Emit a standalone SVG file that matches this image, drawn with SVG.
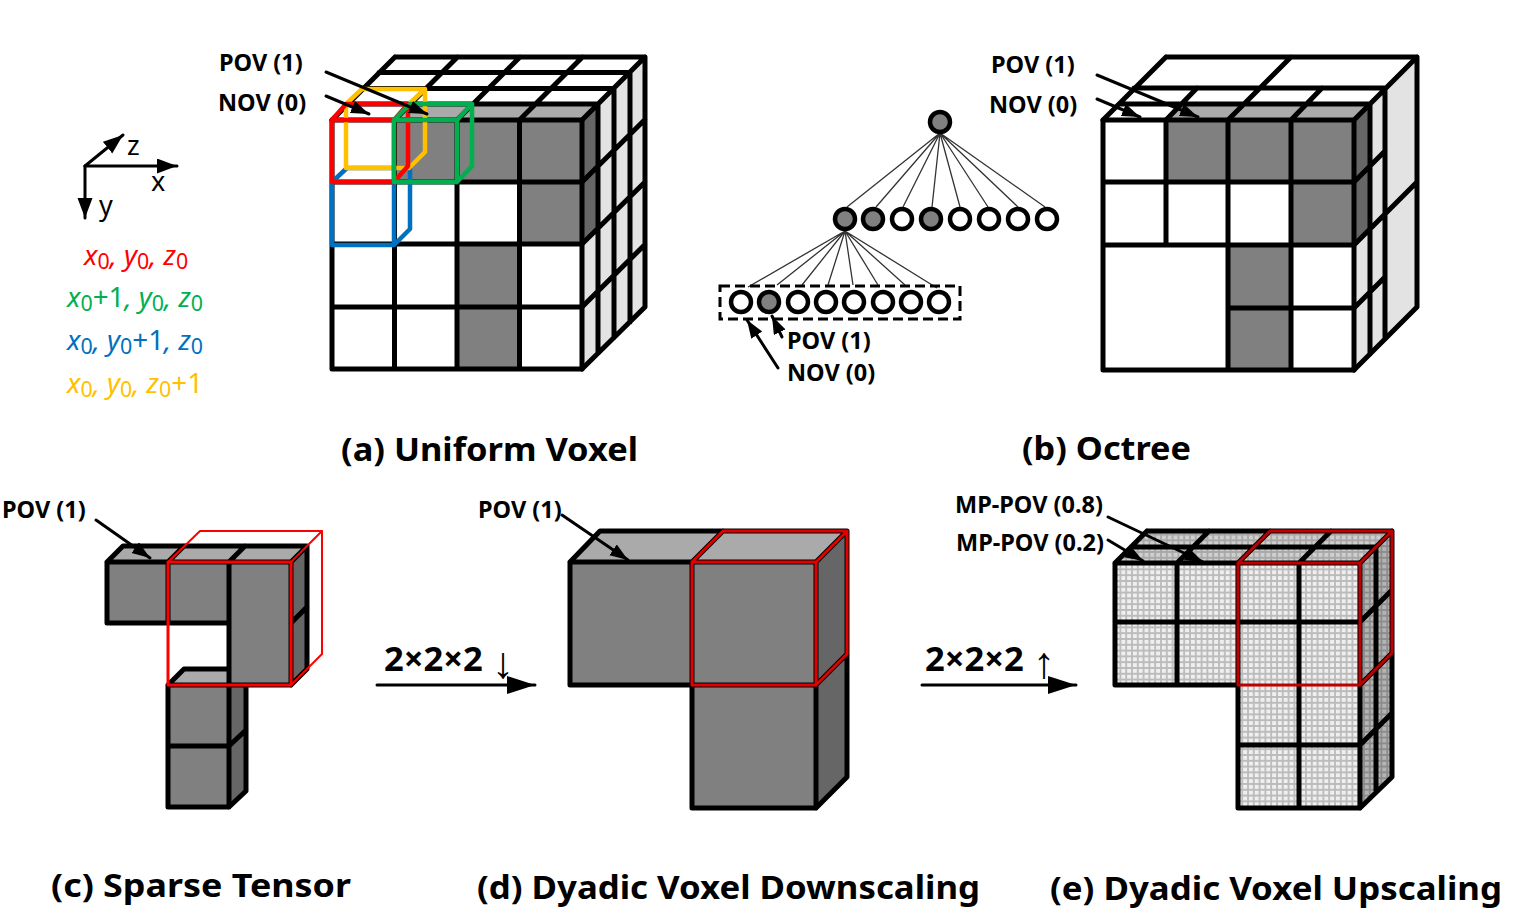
<svg xmlns="http://www.w3.org/2000/svg" width="1514" height="924" viewBox="0 0 1514 924">
<style>
text{font-family:"Noto Sans","Open Sans",sans-serif;fill:#000}
.l{font-size:23.5px;font-weight:700}
.c{font-size:33px;font-weight:700}
.m{font-size:34.5px;font-weight:700}
.ar{font-family:"Liberation Sans",sans-serif;font-weight:400;font-size:44px}
.ax{font-size:27px}
.co{font-size:27.800px;font-style:italic}
.co tspan.s{font-size:21.400px;font-style:normal}
.k{fill:none;stroke:#000;stroke-width:5;stroke-linecap:round;stroke-linejoin:round}
.w{fill:#fff}.g{fill:#808080}.t{fill:#aaa}.r{fill:#666}.p{fill:#e3e3e3}
.a{fill:none;stroke:#000;stroke-width:3;stroke-linecap:round;marker-end:url(#h)}
.ab{fill:none;stroke:#000;stroke-width:3;stroke-linecap:round;marker-end:url(#x)}
.big{fill:none;stroke:#000;stroke-width:3;stroke-linecap:round;marker-end:url(#H)}
.tree{stroke:#333;stroke-width:1.3;fill:none}
.n{stroke:#000;stroke-width:4.5}
.cube{fill:none;stroke-width:4.5;stroke-linejoin:round;stroke-linecap:round}
.rd{fill:none;stroke:#f00;stroke-width:3;stroke-linejoin:round;stroke-linecap:round}
.dk{fill:none;stroke:#c00000;stroke-width:3;stroke-linejoin:round;stroke-linecap:round}
</style>
<defs>
<marker id="h" markerUnits="userSpaceOnUse" markerWidth="20" markerHeight="14" refX="18" refY="6.500" orient="auto"><path d="M0 0L18 6.500L0 13Z"/></marker>
<marker id="x" markerUnits="userSpaceOnUse" markerWidth="22" markerHeight="16" refX="20" refY="7.500" orient="auto"><path d="M0 0L20 7.500L0 15Z"/></marker>
<marker id="H" markerUnits="userSpaceOnUse" markerWidth="30" markerHeight="20" refX="28" refY="9" orient="auto"><path d="M0 0L28 9L0 18Z"/></marker>
<pattern id="lf" patternUnits="userSpaceOnUse" width="5.8" height="5.8"><rect width="5.8" height="5.8" fill="#efefef"/><path d="M0 1H5.800M1 0V5.800" stroke="#bbb" stroke-width="1.800"/></pattern>
<pattern id="lt" patternUnits="userSpaceOnUse" width="5.8" height="5.8"><rect width="5.8" height="5.8" fill="#cfcfcf"/><path d="M0 1H5.800M1 0V5.800" stroke="#a8a8a8" stroke-width="1.800"/></pattern>
<pattern id="lr" patternUnits="userSpaceOnUse" width="5.8" height="5.8"><rect width="5.8" height="5.8" fill="#b4b4b4"/><path d="M0 1H5.800M1 0V5.800" stroke="#8c8c8c" stroke-width="1.800"/></pattern>
</defs>
<rect width="1514" height="924" fill="#fff"/>

<g id="axes">
<path class="ab" d="M85 166L177 166"/>
<path class="ab" d="M85 166L123 135"/>
<path class="ab" d="M85 166L85 218"/>
<text class="ax" x="127" y="155">z</text>
<text class="ax" x="151" y="191">x</text>
<text class="ax" x="99" y="215">y</text>
</g>
<g id="coordinate-legend">
<text class="co" x="84" y="265" style="fill:#f00">x<tspan class="s" dy="4">0</tspan><tspan dy="-4">, y</tspan><tspan class="s" dy="4">0</tspan><tspan dy="-4">, z</tspan><tspan class="s" dy="4">0</tspan></text>
<text class="co" x="67" y="307" style="fill:#00b050">x<tspan class="s" dy="4">0</tspan><tspan dy="-4" style="font-style:normal">+1</tspan><tspan dy="0">, y</tspan><tspan class="s" dy="4">0</tspan><tspan dy="-4">, z</tspan><tspan class="s" dy="4">0</tspan></text>
<text class="co" x="67" y="350" style="fill:#0070c0">x<tspan class="s" dy="4">0</tspan><tspan dy="-4">, y</tspan><tspan class="s" dy="4">0</tspan><tspan dy="-4" style="font-style:normal">+1</tspan><tspan dy="0">, z</tspan><tspan class="s" dy="4">0</tspan></text>
<text class="co" x="67" y="393" style="fill:#ffc000">x<tspan class="s" dy="4">0</tspan><tspan dy="-4">, y</tspan><tspan class="s" dy="4">0</tspan><tspan dy="-4">, z</tspan><tspan class="s" dy="4">0</tspan><tspan dy="-4" style="font-style:normal">+1</tspan></text>
</g>

<g id="uniform-voxel">
<path class="w" d="M332 120L395 57H645L582 120Z"/>
<path class="p" d="M582 120L645 57V307L582 369Z"/>
<path class="t" d="M394.5 120H582L598 104H410Z"/>
<path class="r" d="M582 120L598 104V228L582 244Z"/>
<path class="w" d="M332 120H582V369H332Z"/>
<path class="g" d="M394.5 120H582V182H394.5ZM519.5 182H582V244H519.5ZM457 244H519.5V369H457Z"/>
<path class="k" d="M332 120H582V369H332ZM332 182H582M332 244H582M332 307H582M394.5 120V369M457 120V369M519.5 120V369"/>
<path class="k" d="M348 104H598M363.5 88.5H614M379 72.5H630M395 57H645M332 120L395 57M394.5 120L457.5 57M457 120L520 57M519.5 120L582.5 57M582 120L645 57V307L582 369M582 182L645 119.500M582 244L645 182M582 307L645 244.500M598 104V353M614 88.500V337.500M630 72.500V322"/>
<g id="cell-blue"><path class="cube" stroke="#0070c0" d="M332 182L347 168H410V229L394 245H332ZM394 182V245"/></g>
<g id="cell-yellow"><path class="cube" stroke="#ffc000" d="M346 104L362 89H425L409 104M346 104V168H409L425 152V89"/></g>
<g id="cell-red"><path class="cube" stroke="#f00" d="M332 120H394V182H332ZM332 120L346 104H408V166L394 182M394 120L408 104"/></g>
<g id="cell-green"><path class="cube" stroke="#00b050" d="M394 120H457V182H394ZM394 120L410 104H472V166L457 182M457 120L472 104"/></g>
<text class="l" x="219" y="71">POV (1)</text>
<text class="l" x="218" y="111">NOV (0)</text>
</g>

<g id="octree-tree">
<g id="tree-edges">
<path class="tree" d="M940 133L847 207M940 133L876 207M940 133L903 207M940 133L932 207M940 133L960 207M940 133L988 207M940 133L1018 207M940 133L1045 207"/>
<path class="tree" d="M845 231L748 287M845 231L777 285M845 231L802 285M845 231L828 285M845 231L853 285M845 231L878 285M845 231L905 285M845 231L937 288"/>
</g>
<rect x="720" y="286" width="240" height="33" fill="none" stroke="#000" stroke-width="3" stroke-dasharray="10 5"/>
<g id="root-node"><circle class="n g" cx="940" cy="122" r="10"/></g>
<g id="level-1">
<circle class="n g" cx="845" cy="219" r="10"/><circle class="n g" cx="873" cy="219" r="10"/><circle class="n w" cx="902" cy="219" r="10"/><circle class="n g" cx="931" cy="219" r="10"/><circle class="n w" cx="960" cy="219" r="10"/><circle class="n w" cx="989" cy="219" r="10"/><circle class="n w" cx="1018" cy="219" r="10"/><circle class="n w" cx="1047" cy="219" r="10"/>
</g>
<g id="level-2">
<circle class="n w" cx="741" cy="302" r="10"/><circle class="n g" cx="769" cy="302" r="10"/><circle class="n w" cx="798" cy="302" r="10"/><circle class="n w" cx="826" cy="302" r="10"/><circle class="n w" cx="854" cy="302" r="10"/><circle class="n w" cx="883" cy="302" r="10"/><circle class="n w" cx="911" cy="302" r="10"/><circle class="n w" cx="939" cy="302" r="10"/>
</g>
<text class="l" x="787" y="349">POV (1)</text>
<text class="l" x="787" y="381">NOV (0)</text>
</g>

<g id="octree-voxel">
<path class="w" d="M1103 120L1166 57H1417L1354 120Z"/>
<path class="p" d="M1354 120L1417 57V307L1354 370Z"/>
<path class="t" d="M1166 120H1354L1370 104H1182Z"/>
<path class="r" d="M1354 120L1370 104V229L1354 245Z"/>
<path class="w" d="M1103 120H1354V370H1103Z"/>
<path class="g" d="M1166 120H1354V182H1166ZM1291 182H1354V245H1291ZM1228 245H1291V370H1228Z"/>
<path class="k" d="M1103 120H1354V370H1103ZM1103 182H1354M1103 245H1354M1228 308H1354M1166 120V245M1228 120V370M1291 120V370"/>
<path class="k" d="M1119 104H1370M1134 88H1385M1166 57H1417M1103 120L1166 57M1166 120L1197 88M1228 120L1291 57M1291 120L1322 88M1354 120L1417 57V307L1354 370M1354 182L1385 151M1354 245L1417 182M1354 308L1385 277M1370 104V354M1385 88V338"/>
<text class="l" x="991" y="73">POV (1)</text>
<text class="l" x="989" y="113">NOV (0)</text>
</g>

<g id="sparse-tensor">
<path class="t" d="M107 562L123 546H307L291 562ZM168 685L184 669H229V685Z"/>
<path class="r" d="M291 562L307 546V669L291 685ZM229 685H246V791L229 807Z"/>
<path class="g" d="M107 562H291V685H229V807H168V685H229V623H107Z"/>
<path class="k" d="M107 562H291V685H168V807H229V623H107ZM168 562V623M229 562V623M168 746H229M107 562L123 546H307L291 562M168 562L184 546M229 562L245 546M307 546V669L291 685M291 623L307 607M168 685L184 669H229M246 685V791L229 807M229 746L246 730"/>
<path class="rd" d="M168 562H291V685H168Z"/>
<path class="rd" style="stroke-width:2" d="M168 562L200 531H322V654L291 685M291 562L322 531"/>
<text class="l" x="2" y="518">POV (1)</text>
</g>

<g id="dyadic-down">
<path class="t" d="M570 562L600 531H847L816 562Z"/>
<path class="r" d="M816 562L847 531V777L816 808Z"/>
<path class="g" d="M570 562H816V808H692V685H570Z"/>
<path class="k" d="M570 562H816V808H692V685H570ZM692 562V685H816M570 562L600 531H847L816 562M847 531V777L816 808M692 562L723 531M816 685L847 654"/>
<path class="dk" style="stroke:#e00000" d="M692 562H816V685H692ZM692 562L723 531H847V654L816 685M816 562L847 531"/>
<text class="l" x="478" y="518">POV (1)</text>
</g>

<g id="dyadic-up">
<path fill="url(#lt)" d="M1115 563L1147 531H1392L1360 563Z"/>
<path fill="url(#lr)" d="M1360 563L1392 531V777L1360 808Z"/>
<path fill="url(#lf)" d="M1115 563H1360V808H1238V685H1115Z"/>
<path class="k" d="M1115 563H1360V808H1238V685H1115ZM1115 622H1360M1238 745H1360M1177 563V685M1238 563V685M1299 563V808M1131 547H1376M1147 531H1392M1115 563L1147 531M1177 563L1209 531M1238 563L1270 531M1299 563L1331 531M1360 563L1392 531V777L1360 808M1360 622L1392 590M1360 685L1392 653M1360 745L1392 713M1376 547V792"/>
<path class="dk" d="M1238 563H1360V685H1238ZM1238 563L1270 531H1392V653L1360 685M1360 563L1392 531"/>
<text class="l" x="955" y="513">MP-POV (0.8)</text>
<text class="l" x="956" y="551">MP-POV (0.2)</text>
</g>

<g id="connectors">
<path class="a" d="M326 72L427 114"/>
<path class="a" d="M326 96L369 114"/>
<path class="a" d="M782 337L772 316"/>
<path class="a" d="M778 368L747 320"/>
<path class="a" d="M1097 75L1198 117"/>
<path class="a" d="M1097 99L1140 117"/>
<path class="a" d="M96 520L150 558"/>
<path class="a" d="M562 515L628 560"/>
<path class="a" d="M1108 517L1203 562"/>
<path class="a" d="M1108 540L1143 561"/>
<path class="big" d="M377 685L535 685"/>
<path class="big" d="M922 685L1076 685"/>
</g>

<g id="labels">
<text class="m" x="384" y="671">2×2×2 <tspan class="ar" x="492" dy="7">↓</tspan></text>
<text class="m" x="925" y="671">2×2×2 <tspan class="ar" x="1033" dy="7">↑</tspan></text>
<text class="c" x="341" y="461" textLength="297" lengthAdjust="spacingAndGlyphs">(a) Uniform Voxel</text>
<text class="c" x="1022" y="460" textLength="169" lengthAdjust="spacingAndGlyphs">(b) Octree</text>
<text class="c" x="51" y="897" textLength="300" lengthAdjust="spacingAndGlyphs">(c) Sparse Tensor</text>
<text class="c" x="477" y="899" textLength="503" lengthAdjust="spacingAndGlyphs">(d) Dyadic Voxel Downscaling</text>
<text class="c" x="1050" y="900" textLength="452" lengthAdjust="spacingAndGlyphs">(e) Dyadic Voxel Upscaling</text>
</g>
</svg>
